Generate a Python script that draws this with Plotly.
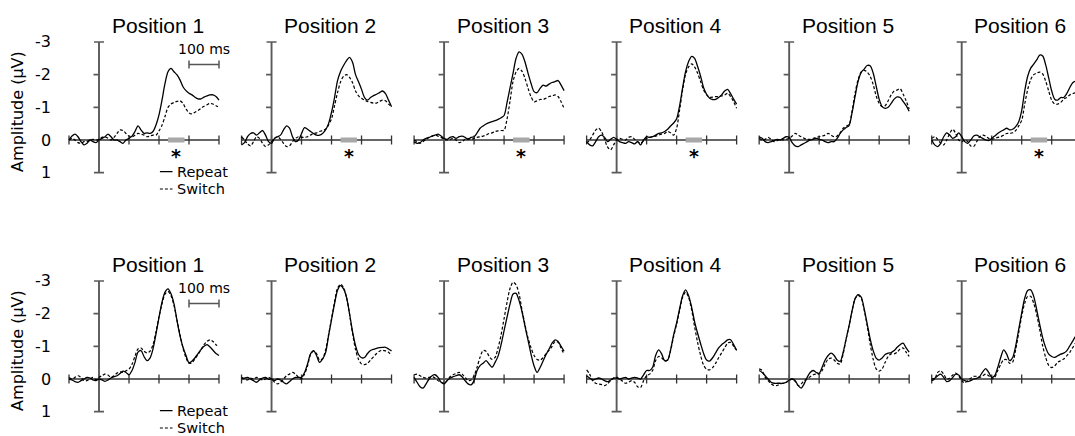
import plotly.graph_objects as go

# ---------------- data ----------------
TIME_MS = list(range(-100, 401, 10))
PANEL_TITLES = ["Position 1", "Position 2", "Position 3", "Position 4", "Position 5", "Position 6"]
Y_TICKS = [-3, -2, -1, 0, 1]
X_TICKS = [-100, 0, 100, 200, 300, 400]
SIG_WINDOW_MS = [230, 285]
SIG_PANELS_TOP = [0, 1, 2, 3, 5]
SCALE_BAR_MS = [300, 400]
LEGEND_NAMES = ["Repeat", "Switch"]

TOP_REPEAT = [
    [0.00, -0.12, -0.18, -0.10, 0.05, 0.15, 0.10, 0.00, 0.05, 0.08,
     0.00, -0.05, -0.10, -0.18, -0.10, 0.00, 0.00, 0.05, 0.10, 0.00,
     -0.05, -0.12, -0.26, -0.43, -0.31, -0.20, -0.22, -0.20, -0.26, -0.46,
     -0.77, -1.22, -1.73, -2.09, -2.19, -2.09, -1.99, -1.84, -1.63, -1.51,
     -1.43, -1.38, -1.31, -1.26, -1.26, -1.31, -1.35, -1.38, -1.38, -1.33, -1.22],
    [0.15, 0.08, -0.10, -0.20, -0.22, -0.15, -0.22, -0.29, -0.15, 0.05,
     0.10, -0.05, -0.10, -0.15, -0.31, -0.43, -0.36, -0.10, 0.05, 0.00,
     -0.20, -0.38, -0.33, -0.26, -0.20, -0.15, -0.15, -0.20, -0.31, -0.50,
     -0.85, -1.30, -1.82, -2.10, -2.28, -2.43, -2.53, -2.38, -2.00, -1.78,
     -1.55, -1.30, -1.22, -1.30, -1.36, -1.40, -1.45, -1.50, -1.42, -1.22, -1.02],
    [0.05, 0.10, 0.08, 0.00, -0.05, -0.08, -0.12, -0.15, -0.18, -0.12,
     -0.05, -0.02, -0.08, -0.10, -0.05, -0.10, -0.12, -0.08, -0.02, -0.08,
     -0.10, -0.22, -0.36, -0.43, -0.49, -0.53, -0.56, -0.59, -0.63, -0.68,
     -0.75, -1.15, -1.60, -2.05, -2.50, -2.70, -2.62, -2.38, -2.04, -1.73,
     -1.48, -1.45, -1.58, -1.68, -1.65, -1.71, -1.76, -1.79, -1.82, -1.68, -1.51],
    [0.05, 0.15, 0.18, 0.05, -0.10, -0.15, -0.08, 0.05, -0.02, -0.08,
     -0.02, 0.05, 0.08, 0.10, 0.05, 0.08, 0.12, 0.05, 0.15, 0.00,
     -0.10, -0.08, -0.10, -0.15, -0.20, -0.22, -0.26, -0.33, -0.43, -0.52,
     -0.65, -1.05, -1.60, -2.10, -2.40, -2.56, -2.50, -2.25, -1.95, -1.60,
     -1.40, -1.28, -1.24, -1.24, -1.30, -1.38, -1.50, -1.55, -1.42, -1.25, -1.10],
    [-0.10, -0.05, 0.05, 0.08, 0.05, 0.02, -0.02, 0.00, -0.05, -0.10,
     -0.08, 0.08, 0.18, 0.20, 0.15, 0.10, 0.05, 0.00, -0.02, -0.05,
     -0.02, 0.00, 0.05, 0.08, 0.05, 0.05, -0.05, -0.20, -0.31, -0.38,
     -0.45, -0.85, -1.35, -1.80, -2.07, -2.17, -2.28, -2.27, -2.05, -1.65,
     -1.25, -1.02, -0.97, -1.00, -1.12, -1.25, -1.32, -1.30, -1.18, -1.05, -0.88],
    [0.00, 0.15, 0.20, 0.10, -0.10, -0.22, -0.15, -0.05, -0.10, -0.22,
     -0.10, 0.05, 0.10, 0.00, -0.12, -0.15, -0.10, -0.05, 0.00, 0.02,
     -0.05, -0.12, -0.20, -0.26, -0.31, -0.36, -0.31, -0.33, -0.41, -0.56,
     -0.90, -1.50, -1.95, -2.20, -2.32, -2.45, -2.60, -2.57, -2.30, -1.90,
     -1.50, -1.25, -1.22, -1.30, -1.30, -1.42, -1.60, -1.75, -1.80, -1.78, -1.72],
]

TOP_SWITCH = [
    [0.00, -0.05, 0.00, 0.08, 0.10, 0.05, 0.05, 0.00, -0.02, 0.00,
     -0.02, -0.08, -0.10, -0.05, 0.00, -0.08, -0.20, -0.31, -0.29, -0.20,
     -0.12, -0.10, -0.15, -0.20, -0.18, -0.15, -0.10, -0.12, -0.15, -0.15,
     -0.28, -0.45, -0.72, -1.00, -1.10, -1.15, -1.18, -1.20, -1.12, -0.95,
     -0.83, -0.80, -0.85, -0.90, -0.97, -1.03, -1.08, -1.12, -1.10, -1.05, -1.00],
    [-0.10, 0.00, 0.12, 0.18, 0.05, -0.10, -0.05, 0.10, 0.20, 0.15,
     0.05, -0.05, -0.10, -0.02, 0.10, 0.20, 0.18, 0.05, -0.05, -0.10,
     -0.08, -0.08, -0.10, -0.15, -0.20, -0.22, -0.26, -0.29, -0.33, -0.46,
     -0.65, -1.05, -1.45, -1.78, -1.95, -2.00, -1.92, -1.75, -1.50, -1.35,
     -1.28, -1.22, -1.18, -1.15, -1.13, -1.13, -1.18, -1.22, -1.20, -1.10, -1.02],
    [0.00, 0.05, 0.10, 0.05, -0.02, -0.08, -0.12, -0.15, -0.12, -0.08,
     -0.02, 0.00, -0.02, -0.05, 0.00, 0.08, 0.05, -0.02, -0.05, -0.02,
     -0.05, -0.08, -0.10, -0.12, -0.15, -0.20, -0.22, -0.26, -0.28, -0.29,
     -0.30, -0.65, -1.20, -1.80, -2.08, -2.19, -2.10, -1.88, -1.58, -1.32,
     -1.17, -1.20, -1.24, -1.24, -1.28, -1.33, -1.35, -1.38, -1.33, -1.17, -0.97],
    [0.10, 0.00, -0.15, -0.30, -0.36, -0.25, -0.02, 0.22, 0.30, 0.15,
     0.00, -0.05, -0.02, 0.00, -0.08, -0.10, -0.02, 0.05, 0.10, 0.02,
     -0.05, -0.08, -0.10, -0.12, -0.15, -0.18, -0.20, -0.26, -0.22, -0.15,
     -0.36, -0.92, -1.53, -2.02, -2.24, -2.33, -2.24, -2.04, -1.79, -1.53,
     -1.38, -1.31, -1.31, -1.33, -1.33, -1.35, -1.38, -1.43, -1.33, -1.17, -0.97],
    [-0.05, 0.00, -0.02, -0.08, -0.02, 0.05, 0.02, -0.02, 0.00, -0.02,
     -0.05, -0.12, -0.20, -0.15, -0.10, -0.05, -0.02, -0.02, -0.05, -0.08,
     -0.10, -0.12, -0.15, -0.20, -0.15, -0.10, -0.12, -0.22, -0.36, -0.42,
     -0.48, -0.90, -1.45, -1.85, -2.08, -2.13, -2.08, -1.95, -1.70, -1.35,
     -1.12, -1.02, -1.05, -1.20, -1.38, -1.50, -1.53, -1.57, -1.40, -1.20, -0.95],
    [-0.05, -0.10, -0.02, 0.10, 0.15, 0.00, -0.20, -0.33, -0.20, 0.00,
     0.05, 0.00, 0.05, 0.18, 0.20, 0.05, -0.10, -0.15, -0.12, -0.05,
     -0.02, -0.05, -0.08, -0.10, -0.15, -0.20, -0.20, -0.22, -0.29, -0.43,
     -0.60, -1.10, -1.55, -1.85, -2.00, -2.05, -2.08, -2.02, -1.80, -1.50,
     -1.22, -1.10, -1.10, -1.15, -1.25, -1.30, -1.38, -1.42, -1.45, -1.45, -1.42],
]

BOTTOM_REPEAT = [
    [0.00, 0.03, 0.08, 0.10, 0.05, 0.00, -0.05, -0.03, 0.03, 0.05,
     0.00, 0.03, 0.07, 0.03, -0.03, -0.07, -0.10, -0.17, -0.24, -0.20,
     -0.13, -0.26, -0.51, -0.82, -0.87, -0.69, -0.56, -0.64, -0.92, -1.38,
     -1.89, -2.35, -2.66, -2.76, -2.61, -2.30, -1.79, -1.33, -0.97, -0.72,
     -0.50, -0.55, -0.65, -0.78, -0.90, -1.00, -1.05, -0.98, -0.88, -0.78, -0.72],
    [0.00, -0.03, -0.05, 0.00, 0.05, 0.10, 0.03, -0.03, -0.05, 0.01,
     0.00, 0.05, 0.00, 0.03, 0.10, 0.15, 0.08, 0.00, -0.05, -0.05,
     -0.05, -0.20, -0.46, -0.77, -0.87, -0.72, -0.51, -0.61, -0.80, -1.32,
     -1.82, -2.30, -2.72, -2.86, -2.76, -2.50, -2.00, -1.45, -1.02, -0.75,
     -0.65, -0.66, -0.78, -0.87, -0.91, -0.94, -0.96, -0.97, -0.97, -0.92, -0.86],
    [-0.05, 0.10, 0.24, 0.28, 0.15, 0.00, -0.10, -0.13, -0.05, 0.10,
     0.15, 0.05, -0.03, -0.07, -0.10, -0.13, -0.07, 0.05, 0.15, 0.18,
     0.05, -0.26, -0.41, -0.48, -0.56, -0.46, -0.36, -0.51, -0.70, -1.05,
     -1.48, -1.90, -2.30, -2.60, -2.62, -2.40, -2.05, -1.60, -1.18, -0.75,
     -0.40, -0.20, -0.35, -0.55, -0.75, -0.92, -1.10, -1.20, -1.15, -1.00, -0.85],
    [-0.10, -0.03, 0.03, 0.00, -0.03, 0.00, 0.05, 0.08, 0.03, -0.03,
     -0.03, 0.00, -0.03, -0.05, 0.00, -0.03, -0.05, -0.03, 0.00, -0.13,
     -0.26, -0.26, -0.36, -0.72, -0.89, -0.77, -0.56, -0.58, -0.90, -1.35,
     -1.72, -2.15, -2.55, -2.73, -2.55, -2.20, -1.75, -1.40, -1.08, -0.78,
     -0.58, -0.55, -0.65, -0.80, -0.95, -1.05, -1.12, -1.20, -1.20, -1.05, -0.88],
    [-0.26, -0.20, -0.10, 0.00, 0.10, 0.13, 0.13, 0.13, 0.13, 0.10,
     0.03, 0.00, 0.05, 0.20, 0.28, 0.15, -0.05, -0.20, -0.26, -0.20,
     -0.17, -0.36, -0.58, -0.72, -0.79, -0.72, -0.58, -0.54, -0.82, -1.23,
     -1.64, -2.10, -2.46, -2.58, -2.51, -2.15, -1.69, -1.23, -0.87, -0.64,
     -0.58, -0.64, -0.75, -0.79, -0.81, -0.87, -0.97, -1.05, -1.10, -0.95, -0.82],
    [0.00, -0.02, -0.10, -0.15, -0.05, 0.08, 0.05, -0.05, -0.15, -0.12,
     0.00, 0.05, 0.08, 0.05, 0.00, -0.02, -0.08, -0.22, -0.32, -0.20,
     -0.05, -0.10, -0.35, -0.66, -0.89, -0.76, -0.56, -0.66, -1.01, -1.52,
     -2.02, -2.47, -2.71, -2.73, -2.53, -2.12, -1.67, -1.26, -0.96, -0.76,
     -0.69, -0.66, -0.71, -0.76, -0.79, -0.86, -1.01, -1.16, -1.31, -1.40, -1.45],
]

BOTTOM_SWITCH = [
    [-0.05, 0.00, -0.05, -0.10, -0.05, 0.05, 0.05, 0.00, -0.05, 0.02,
     -0.05, -0.10, -0.15, -0.12, -0.05, -0.10, -0.18, -0.22, -0.20, -0.25,
     -0.30, -0.45, -0.70, -0.92, -0.95, -0.85, -0.80, -0.85, -1.05, -1.45,
     -1.90, -2.30, -2.60, -2.68, -2.55, -2.25, -1.80, -1.35, -0.95, -0.65,
     -0.48, -0.50, -0.62, -0.75, -0.90, -1.05, -1.15, -1.20, -1.15, -1.05, -0.98],
    [-0.05, 0.00, 0.03, -0.03, 0.00, -0.05, -0.02, 0.03, 0.00, -0.05,
     0.00, 0.10, 0.15, 0.10, 0.00, -0.10, -0.15, -0.20, -0.15, -0.05,
     0.00, -0.15, -0.40, -0.75, -0.85, -0.78, -0.58, -0.62, -0.88, -1.35,
     -1.85, -2.35, -2.78, -2.90, -2.80, -2.50, -1.98, -1.40, -0.90, -0.60,
     -0.46, -0.44, -0.48, -0.58, -0.68, -0.78, -0.85, -0.88, -0.86, -0.82, -0.72],
    [-0.13, -0.15, -0.10, -0.05, -0.03, -0.05, -0.07, -0.03, 0.05, 0.10,
     0.13, 0.05, -0.07, -0.13, -0.17, -0.20, -0.15, -0.05, 0.05, 0.03,
     -0.10, -0.36, -0.67, -0.87, -0.85, -0.70, -0.60, -0.66, -0.95, -1.35,
     -1.85, -2.35, -2.78, -2.96, -2.88, -2.60, -2.10, -1.65, -1.25, -0.95,
     -0.72, -0.60, -0.58, -0.65, -0.78, -0.88, -1.00, -1.15, -1.12, -0.95, -0.75],
    [-0.28, -0.15, 0.05, 0.13, 0.15, 0.17, 0.20, 0.15, 0.05, -0.03,
     -0.05, 0.00, 0.07, 0.13, 0.10, 0.05, 0.10, 0.24, 0.26, 0.05,
     -0.10, -0.15, -0.26, -0.56, -0.69, -0.65, -0.56, -0.58, -0.87, -1.30,
     -1.68, -2.10, -2.50, -2.66, -2.50, -2.12, -1.60, -1.12, -0.72, -0.42,
     -0.30, -0.28, -0.35, -0.48, -0.65, -0.80, -0.95, -1.10, -1.12, -1.00, -0.88],
    [-0.31, -0.26, -0.05, 0.05, 0.15, 0.20, 0.20, 0.15, 0.13, 0.10,
     0.05, 0.00, 0.07, 0.20, 0.15, 0.05, 0.00, -0.07, -0.13, -0.15,
     -0.15, -0.26, -0.46, -0.61, -0.64, -0.58, -0.48, -0.46, -0.77, -1.23,
     -1.64, -2.10, -2.46, -2.56, -2.48, -2.12, -1.64, -1.07, -0.61, -0.31,
     -0.24, -0.31, -0.51, -0.69, -0.77, -0.77, -0.82, -0.92, -0.95, -0.82, -0.69],
    [0.05, 0.00, -0.20, -0.25, -0.15, 0.00, -0.02, -0.12, -0.18, -0.10,
     0.05, 0.12, 0.05, -0.02, -0.08, -0.08, -0.05, -0.10, -0.15, -0.10,
     0.00, -0.05, -0.25, -0.45, -0.59, -0.59, -0.48, -0.52, -0.91, -1.41,
     -1.92, -2.32, -2.53, -2.53, -2.32, -1.97, -1.52, -1.01, -0.66, -0.42,
     -0.35, -0.40, -0.51, -0.56, -0.61, -0.71, -0.81, -0.96, -1.11, -1.20, -1.25],
]

# ---------------- layout geometry ----------------
W, H = 1075, 436
PX_PER_MS = 0.3
PX_PER_UV = 32.67
AXIS_X0_PX = [99 + 172.54 * c for c in range(6)]
ROW_Y0_PX = [140, 379]
X_LO, X_HI = -145, 430
Y_LO, Y_HI = -3.4, 1.7
TITLE_PX_ABOVE_ZERO = 114.5
LEGEND_Y_UV = [0.97, 1.50]

VERDANA = "DejaVu Sans, Verdana, sans-serif"
ARIAL = "Liberation Sans, Arial, sans-serif"
AX_V_COLOR = "#5a5a5a"
AX_H_COLOR = "#333333"

fig = go.Figure()
layout = dict(width=W, height=H, margin=dict(l=0, r=0, t=0, b=0, pad=0),
              paper_bgcolor="white", plot_bgcolor="rgba(0,0,0,0)", showlegend=False)
annotations = []

rows = [(TOP_REPEAT, TOP_SWITCH), (BOTTOM_REPEAT, BOTTOM_SWITCH)]
tick_h = 4.5 / PX_PER_UV
ytick_w = 5.5 / PX_PER_MS
cap_w = 5.0 / PX_PER_MS

for r in range(2):
    for c in range(6):
        k = r * 6 + c + 1
        xa = "x" if k == 1 else f"x{k}"
        ya = "y" if k == 1 else f"y{k}"
        xkey = "xaxis" if k == 1 else f"xaxis{k}"
        ykey = "yaxis" if k == 1 else f"yaxis{k}"
        X0, Y0 = AXIS_X0_PX[c], ROW_Y0_PX[r]
        left_px = X0 + X_LO * PX_PER_MS
        right_px = min(X0 + X_HI * PX_PER_MS, W)
        x_hi = (right_px - X0) / PX_PER_MS
        top_px = Y0 + Y_LO * PX_PER_UV
        bot_px = Y0 + Y_HI * PX_PER_UV
        layout[xkey] = dict(domain=[left_px / W, right_px / W], range=[X_LO, x_hi],
                            visible=False, anchor=ya, fixedrange=True)
        layout[ykey] = dict(domain=[1 - bot_px / H, 1 - top_px / H], range=[Y_HI, Y_LO],
                            visible=False, anchor=xa, fixedrange=True)

        common = dict(xaxis=xa, yaxis=ya, mode="lines", hoverinfo="skip", showlegend=False)
        # horizontal (time) axis
        fig.add_trace(go.Scatter(x=[X_TICKS[0], X_TICKS[-1]], y=[0, 0],
                                 line=dict(color=AX_H_COLOR, width=1.3), **common))
        xs, ys = [], []
        for t in X_TICKS:
            xs += [t, t, None]
            ys += [-tick_h, tick_h, None]
        fig.add_trace(go.Scatter(x=xs, y=ys, line=dict(color=AX_H_COLOR, width=1.3), **common))
        # vertical (amplitude) axis
        fig.add_trace(go.Scatter(x=[0, 0], y=[Y_TICKS[0], Y_TICKS[-1]],
                                 line=dict(color=AX_V_COLOR, width=1.9), **common))
        xs, ys = [], []
        for v in Y_TICKS:
            if v == 0:
                continue
            if v in (Y_TICKS[0], Y_TICKS[-1]):
                xs += [-cap_w, cap_w, None]
            else:
                xs += [-ytick_w, 0, None]
            ys += [v, v, None]
        fig.add_trace(go.Scatter(x=xs, y=ys, line=dict(color=AX_V_COLOR, width=1.6), **common))

        # significance window
        if r == 0 and c in SIG_PANELS_TOP:
            fig.add_trace(go.Scatter(x=SIG_WINDOW_MS, y=[0, 0],
                                     line=dict(color="#a8a8a8", width=5), **common))
            annotations.append(dict(text="<b>*</b>", x=sum(SIG_WINDOW_MS) / 2, y=0.50,
                                    xref=xa, yref=ya, showarrow=False, height=14, borderpad=0,
                                    font=dict(family=VERDANA, size=19, color="#000")))

        rep, sw = rows[r][0][c], rows[r][1][c]
        fig.add_trace(go.Scatter(x=TIME_MS, y=sw, line=dict(color="#000", width=1.2, dash="3px,2px",
                                                            shape="spline", smoothing=0.8), **common))
        fig.add_trace(go.Scatter(x=TIME_MS, y=rep, line=dict(color="#000", width=1.3,
                                                             shape="spline", smoothing=0.8), **common))

        # title (paper y, since it lies above the axis range)
        annotations.append(dict(text=PANEL_TITLES[c], x=195, y=1 - (Y0 - TITLE_PX_ABOVE_ZERO) / H,
                                xref=xa, yref="paper",
                                showarrow=False, xanchor="center", yanchor="middle",
                                font=dict(family=ARIAL, size=21, color="#000")))

        if c == 0:
            # scale bar
            fig.add_trace(go.Scatter(x=SCALE_BAR_MS, y=[-2.31, -2.31],
                                     line=dict(color="#555", width=1.5), **common))
            xs, ys = [], []
            for t in SCALE_BAR_MS:
                xs += [t, t, None]
                ys += [-2.31 - 0.12, -2.31 + 0.12, None]
            fig.add_trace(go.Scatter(x=xs, y=ys, line=dict(color="#555", width=1.5), **common))
            annotations.append(dict(text="100 ms", x=sum(SCALE_BAR_MS) / 2, y=-2.79, xref=xa, yref=ya,
                                    showarrow=False, font=dict(family=VERDANA, size=14, color="#000")))
            # legend samples
            fig.add_trace(go.Scatter(x=[203, 245], y=[LEGEND_Y_UV[0]] * 2,
                                     line=dict(color="#000", width=1.2), **common))
            fig.add_trace(go.Scatter(x=[203, 245], y=[LEGEND_Y_UV[1]] * 2,
                                     line=dict(color="#000", width=1.2, dash="3px,2px"), **common))
            for name, yv in zip(LEGEND_NAMES, LEGEND_Y_UV):
                annotations.append(dict(text=name, x=257, y=yv, xref=xa, yref=ya, showarrow=False,
                                        xanchor="left", yanchor="middle", borderpad=0,
                                        font=dict(family=VERDANA, size=14.5, color="#000")))
            # y tick labels
            for v in Y_TICKS:
                annotations.append(dict(text=str(v), x=53 / W, y=v, xref="paper", yref=ya,
                                        showarrow=False, xanchor="right", yanchor="middle",
                                        font=dict(family=VERDANA, size=16, color="#000")))
            annotations.append(dict(text="Amplitude (µV)", x=18 / W, y=-0.86, xref="paper", yref=ya,
                                    showarrow=False, textangle=-90, xanchor="center", yanchor="middle",
                                    font=dict(family=VERDANA, size=16, color="#000")))

layout["annotations"] = annotations
fig.update_layout(**layout)
fig.write_html("out.html", config={"displayModeBar": False},
               post_script="document.body.style.margin='0';document.body.style.padding='0';")
